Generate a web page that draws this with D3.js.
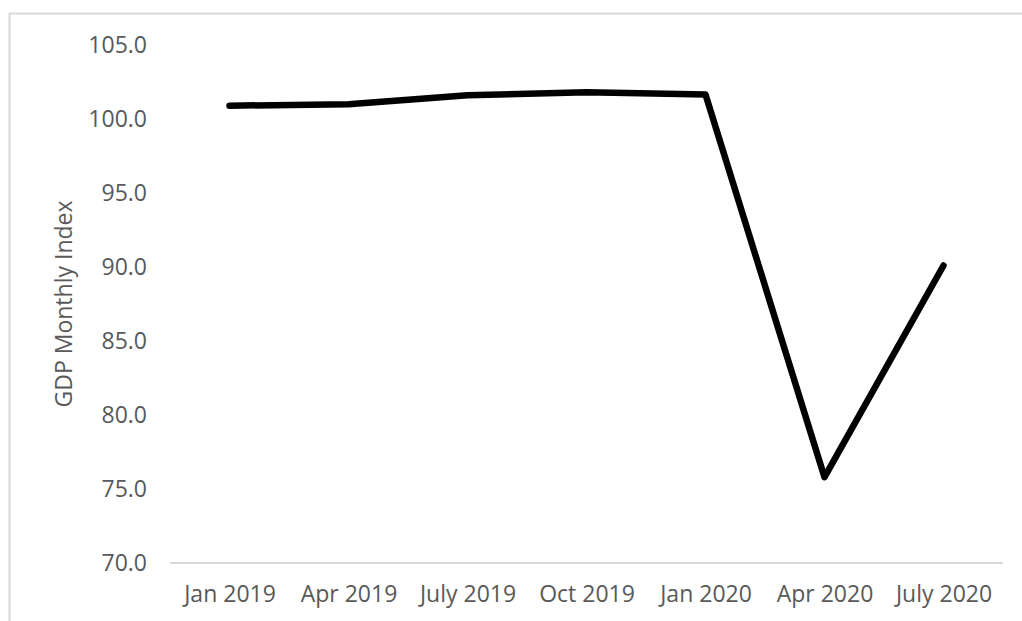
<!DOCTYPE html>
<html>
<head>
<meta charset="utf-8">
<script src="https://cdn.jsdelivr.net/npm/d3@7"></script>
<style>
  body { margin: 0; background: #fff; }
  svg text { font-family: "Open Sans", sans-serif; fill: #595959; }
</style>
</head>
<body>
<svg id="chart" width="1022" height="621"></svg>
<script>
const quarters = ['Jan 2019', 'Apr 2019', 'July 2019', 'Oct 2019', 'Jan 2020', 'Apr 2020', 'July 2020'];
const gdpIndex = [100.9, 101.0, 101.6, 101.8, 101.65, 75.8, 90.1];
const yTicks = [70, 75, 80, 85, 90, 95, 100, 105];

const svg = d3.select('#chart');
const W = 1022, H = 621;
const m = {left: 170, right: 19, top: 45, bottom: 58};

// chart area border (cut off at right and bottom like the original)
svg.append('rect')
  .attr('x', 9.5).attr('y', 13.5)
  .attr('width', 1100).attr('height', 700)
  .attr('fill', 'none')
  .attr('stroke', '#d9d9d9')
  .attr('stroke-width', 2);

const x = d3.scalePoint()
  .domain(quarters)
  .range([m.left, W - m.right])
  .padding(0.5);

const y = d3.scaleLinear()
  .domain([70, 105])
  .range([H - m.bottom, m.top]);

// y axis labels only
const yAxis = svg.append('g')
  .attr('transform', `translate(${m.left - 23},0)`)
  .call(d3.axisLeft(y).tickValues(yTicks).tickFormat(d3.format('.1f')).tickSize(0).tickPadding(0));
yAxis.select('.domain').remove();
yAxis.selectAll('text')
  .attr('font-size', 23)
  .attr('font-family', null)
  .attr('fill', '#595959');

// x axis: light baseline, labels below
const xAxis = svg.append('g')
  .attr('transform', `translate(0,${y(70)})`)
  .call(d3.axisBottom(x).tickSize(0).tickPadding(23));
xAxis.select('.domain')
  .attr('stroke', '#d9d9d9')
  .attr('stroke-width', 2)
  .attr('d', `M${m.left},0H${W - m.right}`);
xAxis.selectAll('text')
  .attr('font-size', 23)
  .attr('font-family', null)
  .attr('fill', '#595959');

svg.append('text')
  .attr('transform', `translate(72,${(y(70) + y(105)) / 2}) rotate(-90)`)
  .attr('text-anchor', 'middle')
  .attr('font-size', 23)
  .text('GDP Monthly Index');

const line = d3.line()
  .x((d, i) => x(quarters[i]))
  .y(d => y(d));

svg.append('path')
  .datum(gdpIndex)
  .attr('d', line)
  .attr('fill', 'none')
  .attr('stroke', '#000')
  .attr('stroke-width', 6.5)
  .attr('stroke-linejoin', 'round')
  .attr('stroke-linecap', 'round');
</script>
</body>
</html>
